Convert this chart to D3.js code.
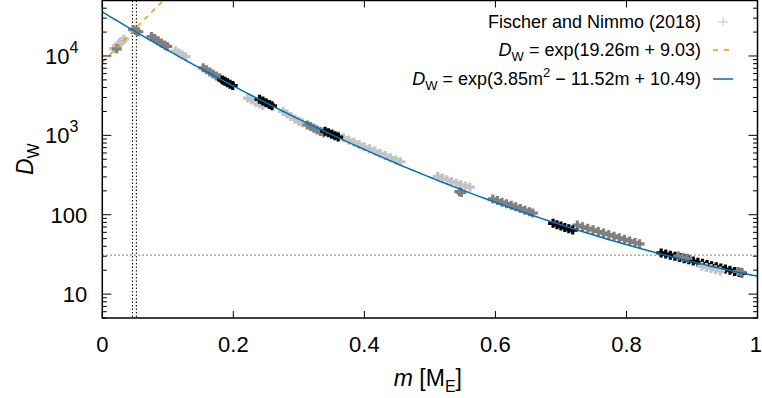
<!DOCTYPE html>
<html>
<head>
<meta charset="utf-8">
<script src="https://cdn.jsdelivr.net/npm/d3@7"></script>
<style>
  body { margin: 0; background: #fff; }
  svg { display: block; font-family: "Liberation Sans", Arial, sans-serif; }
</style>
</head>
<body>
<div id="chart"></div>
<script>
// D_W vs planet mass, Fischer and Nimmo (2018) points + two fits

// point clouds, [m, D_W]
const lightPts = [
  [0.018, 12400], [0.022, 13300], [0.026, 14300], [0.030, 15300], [0.033, 16300],
  [0.112, 11600], [0.117, 10900], [0.122, 10300], [0.127, 9800],
  [0.222, 2950], [0.228, 2780], [0.234, 2620], [0.240, 2480], [0.245, 2370],
  [0.276, 2000], [0.282, 1860], [0.288, 1730], [0.294, 1610], [0.300, 1510], [0.305, 1440],
  [0.352, 1060], [0.360, 994], [0.368, 932], [0.376, 874], [0.384, 820], [0.392, 769],
  [0.400, 721], [0.408, 676], [0.416, 634], [0.424, 595], [0.432, 558], [0.440, 523],
  [0.448, 491], [0.455, 465],
  [0.512, 305], [0.519, 290], [0.526, 276], [0.533, 262], [0.540, 250], [0.547, 238],
  [0.554, 230], [0.561, 222]
];
const grayPts = [
  [0.022, 12300],
  [0.047, 21500], [0.051, 20800], [0.055, 20200],
  [0.075, 17600], [0.080, 16600], [0.085, 15600], [0.090, 14600], [0.095, 13800], [0.099, 13200],
  [0.154, 7100], [0.159, 6700], [0.164, 6300], [0.169, 5950], [0.174, 5600], [0.179, 5300],
  [0.313, 1350], [0.318, 1290], [0.323, 1230], [0.328, 1170], [0.333, 1120], [0.338, 1070],
  [0.545, 195], [0.548, 190],
  [0.596, 158], [0.603, 151], [0.610, 144], [0.617, 138], [0.624, 132], [0.631, 126],
  [0.638, 120], [0.645, 114], [0.652, 109], [0.657, 105],
  [0.725, 74], [0.733, 70.5], [0.741, 67.5], [0.749, 64.5], [0.757, 61.5], [0.765, 58.8],
  [0.773, 56.2], [0.781, 53.7], [0.789, 51.3], [0.797, 49], [0.805, 46.8], [0.813, 44.7],
  [0.820, 43]
];
const blackPts = [
  [0.183, 5000], [0.187, 4800], [0.191, 4600], [0.195, 4420], [0.199, 4250],
  [0.240, 2850], [0.245, 2700], [0.250, 2570], [0.255, 2450], [0.259, 2360],
  [0.340, 1130], [0.345, 1080], [0.350, 1035], [0.355, 990], [0.360, 950],
  [0.688, 78], [0.694, 75], [0.700, 72], [0.706, 69], [0.712, 66.5], [0.718, 64],
  [0.853, 33], [0.860, 31.9], [0.867, 30.9], [0.874, 29.9], [0.881, 28.9], [0.888, 27.9],
  [0.895, 27.0], [0.902, 26.1], [0.909, 25.2], [0.916, 24.4], [0.923, 23.6], [0.930, 22.8],
  [0.937, 22.1], [0.944, 21.4], [0.951, 20.7], [0.958, 20.0], [0.965, 19.3], [0.972, 18.7],
  [0.976, 18.4]
];
// drawn last, they sit on top of the black band
const topGrayPts = [[0.879, 30.2], [0.886, 29.2], [0.893, 28.2], [0.970, 19.3], [0.975, 18.8]];
const topLightPts = [[0.915, 22.5], [0.922, 21.7], [0.929, 21.0], [0.936, 20.3], [0.943, 19.6]];

// fit coefficients from the legend
const linFit = [19.26, 9.03];          // exp(a m + b)
const quadFit = [3.85, -11.52, 10.49]; // exp(a m^2 + b m + c)

const vLines = [0.046, 0.052];
const hLines = [31];

const xTicks = [0, 0.2, 0.4, 0.6, 0.8, 1];
const xTickLabels = ["0", "0.2", "0.4", "0.6", "0.8", "1"];
const yTicks = [10, 100, 1000, 10000];
const yTickLabels = [["10", ""], ["100", ""], ["10", "3"], ["10", "4"]];

const width = 762, height = 398;
const margin = { top: 0.5, right: 4.5, bottom: 80, left: 102.3 };
const w = width - margin.left - margin.right;
const h = height - margin.top - margin.bottom;

const svg = d3.select("#chart").append("svg")
  .attr("width", width)
  .attr("height", height);

const x = d3.scaleLinear().domain([0, 1]).range([0, w]);
const y = d3.scaleLog().domain([5, 50000]).range([h, 0]);

const g = svg.append("g").attr("transform", `translate(${margin.left},${margin.top})`);

svg.append("defs").append("clipPath").attr("id", "clip")
  .append("rect").attr("width", w).attr("height", h);

const plot = g.append("g").attr("clip-path", "url(#clip)");

// dotted guide lines
vLines.forEach(v => {
  plot.append("line")
    .attr("x1", x(v)).attr("x2", x(v)).attr("y1", 0).attr("y2", h)
    .attr("stroke", "#000").attr("stroke-width", 1)
    .attr("stroke-dasharray", "1.5,2");
});
hLines.forEach(v => {
  plot.append("line")
    .attr("x1", 0).attr("x2", w).attr("y1", y(v)).attr("y2", y(v))
    .attr("stroke", "#555").attr("stroke-width", 1)
    .attr("stroke-dasharray", "1.5,2.5");
});

// points
const plus = "M-5,0H5M0,-4.5V4.5";
function drawPts(pts, color) {
  plot.append("g").selectAll("path").data(pts).enter().append("path")
    .attr("d", plus)
    .attr("transform", d => `translate(${x(d[0])},${y(d[1])})`)
    .attr("stroke", color)
    .attr("stroke-width", 3.2)
    .attr("fill", "none");
}
drawPts(lightPts, "#c4c4c4");
drawPts(grayPts, "#808080");
drawPts(blackPts, "#000");
drawPts(topGrayPts, "#808080");
drawPts(topLightPts, "#c4c4c4");

// fit curves
const ms = d3.range(0, 1.0001, 0.005);
const line = d3.line().x(d => x(d[0])).y(d => y(d[1]));

plot.append("path")
  .datum(ms.filter(m => m <= 0.12).map(m => [m, Math.exp(linFit[0] * m + linFit[1])]))
  .attr("d", line)
  .attr("fill", "none")
  .attr("stroke", "#e69f00")
  .attr("stroke-width", 1.5)
  .attr("stroke-dasharray", "5,5");

plot.append("path")
  .datum(ms.map(m => [m, Math.exp(quadFit[0] * m * m + quadFit[1] * m + quadFit[2])]))
  .attr("d", line)
  .attr("fill", "none")
  .attr("stroke", "#0072b2")
  .attr("stroke-width", 1.5);

// ticks, inward, mirrored
const tickG = g.append("g").attr("stroke", "#000").attr("stroke-width", 1);
xTicks.forEach(t => {
  tickG.append("line").attr("x1", x(t)).attr("x2", x(t)).attr("y1", h).attr("y2", h - 7);
  tickG.append("line").attr("x1", x(t)).attr("x2", x(t)).attr("y1", 0).attr("y2", 7);
});
const yMinor = [];
[1, 10, 100, 1000, 10000].forEach(dec => {
  for (let k = 2; k <= 9; k++) {
    const v = k * dec;
    if (v >= 5 && v <= 50000) yMinor.push(v);
  }
});
yTicks.forEach(t => {
  tickG.append("line").attr("x1", 0).attr("x2", 9).attr("y1", y(t)).attr("y2", y(t));
  tickG.append("line").attr("x1", w).attr("x2", w - 9).attr("y1", y(t)).attr("y2", y(t));
});
yMinor.forEach(t => {
  tickG.append("line").attr("x1", 0).attr("x2", 4.5).attr("y1", y(t)).attr("y2", y(t));
  tickG.append("line").attr("x1", w).attr("x2", w - 4.5).attr("y1", y(t)).attr("y2", y(t));
});

// frame
g.append("rect")
  .attr("width", w).attr("height", h)
  .attr("fill", "none").attr("stroke", "#000").attr("stroke-width", 1.5);

// tick labels (last one kept inside the window)
xTicks.forEach((t, i) => {
  const last = i === xTicks.length - 1;
  g.append("text")
    .attr("x", last ? width - margin.left : x(t)).attr("y", h + 34)
    .attr("text-anchor", last ? "end" : "middle")
    .style("font-size", "22px")
    .text(xTickLabels[i]);
});
yTicks.forEach((t, i) => {
  const lab = yTickLabels[i];
  const txt = g.append("text")
    .attr("x", lab[1] ? -24 : -15).attr("y", y(t) + 8)
    .attr("text-anchor", "end")
    .style("font-size", "22px");
  txt.append("tspan").text(lab[0]);
  if (lab[1]) {
    txt.append("tspan").attr("dy", -11).style("font-size", "16px").text(lab[1]);
  }
});

// axis titles
const xt = svg.append("text")
  .attr("x", margin.left + w / 2 - 2).attr("y", 386)
  .attr("text-anchor", "middle")
  .style("font-size", "23px");
xt.append("tspan").style("font-style", "italic").text("m");
xt.append("tspan").text(" [M");
xt.append("tspan").attr("dy", 6).style("font-size", "16px").text("E");
xt.append("tspan").attr("dy", -6).text("]");

const yt = svg.append("text")
  .attr("transform", `translate(33,${margin.top + h / 2}) rotate(-90)`)
  .attr("text-anchor", "middle")
  .style("font-size", "23px");
yt.append("tspan").style("font-style", "italic").text("D");
yt.append("tspan").attr("dy", 6).style("font-size", "16px").text("W");

// legend
const legX = 701, sx0 = 713, sx1 = 733;
const leg = svg.append("g").style("font-size", "18px");

leg.append("text").attr("x", legX).attr("y", 28).attr("text-anchor", "end")
  .text("Fischer and Nimmo (2018)");
leg.append("path").attr("d", plus)
  .attr("transform", `translate(${(sx0 + sx1) / 2},22)`)
  .attr("stroke", "#c4c4c4").attr("stroke-width", 1).attr("fill", "none");

const l2 = leg.append("text").attr("x", legX).attr("y", 56).attr("text-anchor", "end");
l2.append("tspan").style("font-style", "italic").text("D");
l2.append("tspan").attr("dy", 5).style("font-size", "13px").text("W");
l2.append("tspan").attr("dy", -5).text(" = exp(19.26m + 9.03)");
leg.append("line").attr("x1", sx0).attr("x2", sx1).attr("y1", 50).attr("y2", 50)
  .attr("stroke", "#e69f00").attr("stroke-width", 1.5).attr("stroke-dasharray", "5,6");

const l3 = leg.append("text").attr("x", legX).attr("y", 85).attr("text-anchor", "end");
l3.append("tspan").style("font-style", "italic").text("D");
l3.append("tspan").attr("dy", 5).style("font-size", "13px").text("W");
l3.append("tspan").attr("dy", -5).text(" = exp(3.85m");
l3.append("tspan").attr("dy", -8).style("font-size", "13px").text("2");
l3.append("tspan").attr("dy", 8).text(" \u2212 11.52m + 10.49)");
leg.append("line").attr("x1", sx0).attr("x2", sx1).attr("y1", 79).attr("y2", 79)
  .attr("stroke", "#0072b2").attr("stroke-width", 1.5);
</script>
</body>
</html>
